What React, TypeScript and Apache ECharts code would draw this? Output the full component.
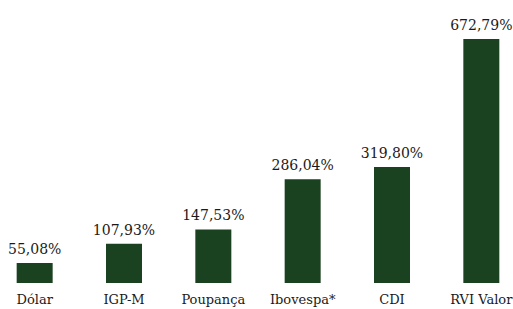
import React, { useEffect, useRef } from "react";
import * as echarts from "echarts";

const categories = ["Dólar", "IGP-M", "Poupança", "Ibovespa*", "CDI", "RVI Valor"];
const values = [55.08, 107.93, 147.53, 286.04, 319.8, 672.79];

const fmt = (v: number) => v.toFixed(2).replace(".", ",") + "%";
const serif = "DejaVu Serif";

export default function App() {
  const ref = useRef<HTMLDivElement>(null);
  useEffect(() => {
    if (!ref.current) return;
    const chart = echarts.init(ref.current, null, { renderer: "svg" });
    chart.setOption({
      animation: false,
      grid: { left: 0, right: 0, top: 39, bottom: 26, containLabel: false },
      xAxis: {
        type: "category",
        data: categories,
        axisLine: { show: false },
        axisTick: { show: false },
        axisLabel: {
          color: "#1a1a1a",
          fontFamily: serif,
          fontSize: 13,
          margin: 10,
          interval: 0,
        },
      },
      yAxis: {
        type: "value",
        min: 0,
        max: 672.79,
        show: false,
        splitLine: { show: false },
      },
      series: [
        {
          type: "bar",
          data: values,
          barWidth: 36,
          itemStyle: { color: "#1a4221" },
          label: {
            show: true,
            position: "top",
            distance: 7,
            color: "#1a1a1a",
            fontFamily: serif,
            fontSize: 14,
            formatter: (p: any) => fmt(p.value),
          },
        },
      ],
    });
    return () => chart.dispose();
  }, []);
  return (
    <div style={{ position: "absolute", left: 0, top: 0, width: 513, height: 309, overflow: "hidden" }}>
      <div ref={ref} style={{ width: 536, height: 309, position: "absolute", left: -10, top: 0 }} />
    </div>
  );
}
